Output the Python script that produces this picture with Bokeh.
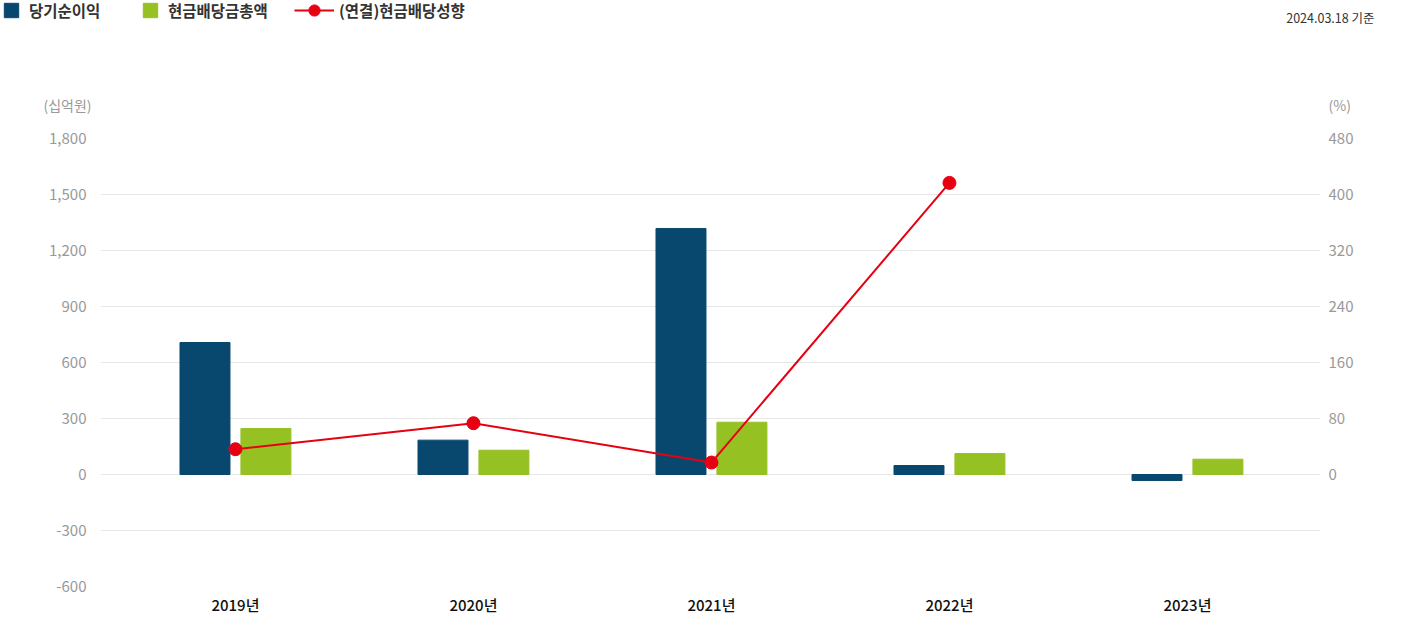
from bokeh.plotting import figure
from bokeh.layouts import column
from bokeh.models import (Range1d, LinearAxis, Label, Legend, LegendItem,
                          FixedTicker, ColumnDataSource)
from bokeh.embed import file_html
from bokeh.resources import INLINE

# ---- data ----
years = ["2019년", "2020년", "2021년", "2022년", "2023년"]
net_income = [707, 184, 1318, 48, -32]          # 당기순이익 (십억원)
dividend_total = [246, 130, 280, 112, 82]       # 현금배당금총액 (십억원)
payout_ratio = [36.1, 73.3, 17.1, 416.6, None]  # (연결)현금배당성향 (%)
left_ticks = [-600, -300, 0, 300, 600, 900, 1200, 1500, 1800]
right_ticks = [0, 80, 160, 240, 320, 400, 480]
series_names = ["당기순이익", "현금배당금총액", "(연결)현금배당성향"]

FONT = "Noto Sans CJK KR"
FONT_MED = "'Noto Sans CJK KR Medium', 'Noto Sans CJK KR'"
NAVY = "#08486f"
GREEN = "#96c123"
RED = "#e60012"
W = 1401
TOP_H = 120
MAIN_H = 639 - TOP_H

# ================= main chart =================
idx = list(range(len(years)))
off = 0.128
bw = 0.21
src = ColumnDataSource(dict(
    x=idx,
    x_ni=[i - off for i in idx],
    x_dv=[i + off for i in idx],
    ni=net_income, dv=dividend_total,
))
line_x = [i for i, v in zip(idx, payout_ratio) if v is not None]
line_y = [v for v in payout_ratio if v is not None]

p = figure(width=W, height=MAIN_H, output_backend="svg", toolbar_location=None,
           x_range=Range1d(-0.567, 4.559), y_range=Range1d(-600, 1800),
           min_border_left=100, min_border_right=81, min_border_top=138 - TOP_H,
           min_border_bottom=53, outline_line_color=None,
           background_fill_color="white", border_fill_color="white")
p.extra_y_ranges = {"pct": Range1d(-160, 480)}

p.vbar(x="x_ni", top="ni", width=bw, source=src, color=NAVY)
p.vbar(x="x_dv", top="dv", width=bw, source=src, color=GREEN)
p.line(line_x, line_y, y_range_name="pct", color=RED, line_width=2)
p.scatter(line_x, line_y, y_range_name="pct", size=13, color=RED)

p.xgrid.visible = False
p.ygrid.ticker = FixedTicker(ticks=left_ticks)
p.ygrid.grid_line_color = "#e6e6e6"
p.ygrid.grid_line_width = 1

def style_axis(ax, color="#999999", size="15px", standoff=10, font=FONT):
    ax.axis_line_color = None
    ax.major_tick_line_color = None
    ax.minor_tick_line_color = None
    ax.major_tick_out = 0
    ax.major_tick_in = 0
    ax.minor_tick_out = 0
    ax.major_label_text_font = font
    ax.major_label_text_font_size = size
    ax.major_label_text_color = color
    ax.major_label_standoff = standoff

p.yaxis.ticker = FixedTicker(ticks=left_ticks)
p.yaxis.major_label_overrides = {t: f"{t:,}" for t in left_ticks}
style_axis(p.yaxis[0], standoff=14)

ra = LinearAxis(y_range_name="pct", ticker=FixedTicker(ticks=right_ticks))
style_axis(ra, standoff=8)
p.add_layout(ra, "right")

p.xaxis.ticker = FixedTicker(ticks=idx)
p.xaxis.major_label_overrides = {i: y for i, y in zip(idx, years)}
style_axis(p.xaxis[0], color="#111111", size="15px", standoff=7, font=FONT_MED)

# ================= header (legend, date, units) =================
# frame covers the whole header; data units equal pixels from top-left
h = figure(width=W, height=TOP_H, output_backend="svg", toolbar_location=None,
           x_range=Range1d(0, W), y_range=Range1d(TOP_H, 0),
           min_border=0, outline_line_color=None, x_axis_type=None, y_axis_type=None,
           background_fill_color="white", border_fill_color="white")
h.grid.visible = False
for fig in (h, p):
    try:
        fig.frame_align = False
    except Exception:
        pass

nan = float("nan")
e_ni = h.vbar(x=[nan], top=[nan], width=1, color=NAVY)
e_dv = h.vbar(x=[nan], top=[nan], width=1, color=GREEN)
e_ln = h.line(x=[nan], y=[nan], color=RED, line_width=2)
e_pt = h.scatter(x=[nan], y=[nan], color=RED)

def mk_legend(items, loc, gw, gh, standoff):
    lg = Legend(items=items, location=loc, orientation="horizontal",
                glyph_width=gw, glyph_height=gh, label_standoff=standoff,
                padding=0, margin=0, border_line_color=None,
                background_fill_alpha=0, label_text_font=FONT,
                label_text_font_size="15.5px", label_text_font_style="bold",
                label_text_color="#333333", label_height=28,
                label_text_baseline="middle")
    h.add_layout(lg, "center")

# location: pixels from the header's bottom-left corner to the legend's bottom-left
mk_legend([LegendItem(label=series_names[0], renderers=[e_ni])], (2, TOP_H - 24), 18, 18, 9)
mk_legend([LegendItem(label=series_names[1], renderers=[e_dv])], (141, TOP_H - 24), 18, 18, 9)
mk_legend([LegendItem(label=series_names[2], renderers=[e_ln, e_pt])], (294, TOP_H - 24), 40, 28, 5)

def lab(x, y, text, align, color, size):
    h.add_layout(Label(x=x, y=y, text=text, text_font=FONT, text_font_size=size,
                       text_color=color, text_align=align, text_baseline="middle"))

lab(1374, 17, "2024.03.18 기준", "right", "#333333", "12.5px")
lab(91, 104, "(십억원)", "right", "#999999", "14px")
lab(1328, 104, "(%)", "left", "#999999", "14px")

layout = column(h, p, spacing=0)
open("out.html", "w").write(file_html(layout, INLINE))
